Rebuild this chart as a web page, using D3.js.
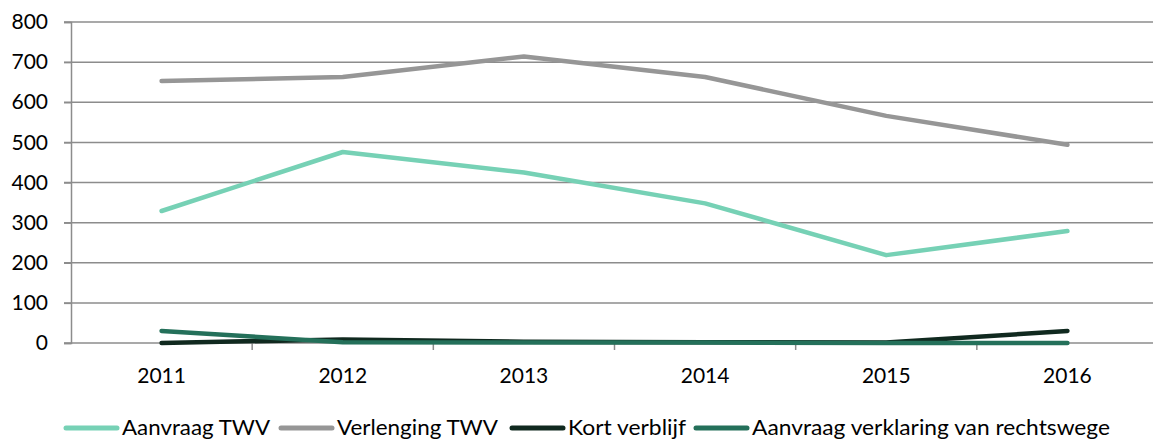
<!DOCTYPE html>
<html>
<head>
<meta charset="utf-8">
<script src="https://cdn.jsdelivr.net/npm/d3@7"></script>
<style>
  body { margin: 0; background: #fff; }
  svg text { font-family: Lato, "Open Sans", sans-serif; fill: #000; }
  .grid line { stroke: #8c8c8c; stroke-width: 1.5; }
  .axis path, .axis line { stroke: #8c8c8c; stroke-width: 1.5; }
  .series { fill: none; stroke-width: 4.5; stroke-linecap: round; stroke-linejoin: round; }
</style>
</head>
<body>
<svg id="chart" width="1153" height="441"></svg>
<script>
var years = ["2011", "2012", "2013", "2014", "2015", "2016"];
var yTicks = [0, 100, 200, 300, 400, 500, 600, 700, 800];

var aanvraagTWV   = [329, 476, 425, 348, 219, 279];
var verlengingTWV = [653, 663, 714, 663, 566, 494];
var kortVerblijf  = [0, 9, 3, 2, 1, 30];
var verklaring    = [30, 2, 1, 1, 0, 0];

var seriesNames  = ["Aanvraag TWV", "Verlenging TWV", "Kort verblijf", "Aanvraag verklaring van rechtswege"];
var seriesColors = ["#76d1b5", "#969696", "#10291f", "#24705a"];
var seriesData   = [aanvraagTWV, verlengingTWV, kortVerblijf, verklaring];

var LEFT = 71, RIGHT = 1158, TOP = 22, BOTTOM = 343;

var svg = d3.select("#chart");

var x = d3.scaleBand()
	.domain(years)
	.range([LEFT, RIGHT]);

var y = d3.scaleLinear()
	.domain([0, 800])
	.range([BOTTOM, TOP]);

// horizontal gridlines
svg.append("g")
	.attr("class", "grid")
	.selectAll("line")
	.data(yTicks)
	.enter().append("line")
	.attr("x1", LEFT - 7)
	.attr("x2", 1153)
	.attr("y1", function(d){ return y(d); })
	.attr("y2", function(d){ return y(d); });

// y axis
var yAxis = svg.append("g")
	.attr("class", "axis")
	.attr("transform", "translate(" + LEFT + ",0)")
	.call(d3.axisLeft(y).tickValues(yTicks).tickSize(7).tickPadding(16));
yAxis.selectAll("text").style("font-size", "21px");

// x axis: ticks at category boundaries
var xb = svg.append("g")
	.attr("class", "axis")
	.attr("transform", "translate(0," + BOTTOM + ")");
xb.selectAll("line")
	.data(years.slice(1))
	.enter().append("line")
	.attr("x1", function(d){ return x(d); })
	.attr("x2", function(d){ return x(d); })
	.attr("y1", 0)
	.attr("y2", 7);
xb.selectAll("text")
	.data(years)
	.enter().append("text")
	.attr("x", function(d){ return x(d) + x.bandwidth() / 2; })
	.attr("y", 40)
	.attr("text-anchor", "middle")
	.style("font-size", "21px")
	.text(function(d){ return d; });

var line = d3.line()
	.x(function(d, i){ return x(years[i]) + x.bandwidth() / 2; })
	.y(function(d){ return y(d); });

svg.selectAll("path.series")
	.data(seriesData)
	.enter().append("path")
	.attr("class", "series")
	.attr("stroke", function(d, i){ return seriesColors[i]; })
	.attr("d", line);

// legend
var legendX = [66, 281, 512, 696];
var legendW = [148, 161, 118, 358];
var leg = svg.append("g").attr("transform", "translate(0,428)");
seriesNames.forEach(function(name, i) {
	leg.append("line")
		.attr("x1", legendX[i])
		.attr("x2", legendX[i] + 51)
		.attr("y1", 0)
		.attr("y2", 0)
		.attr("stroke", seriesColors[i])
		.attr("stroke-width", 5)
		.attr("stroke-linecap", "round");
	leg.append("text")
		.attr("x", legendX[i] + 56)
		.attr("y", 7)
		.attr("textLength", legendW[i])
		.attr("lengthAdjust", "spacingAndGlyphs")
		.style("font-size", "21px")
		.text(name);
});
</script>
</body>
</html>
